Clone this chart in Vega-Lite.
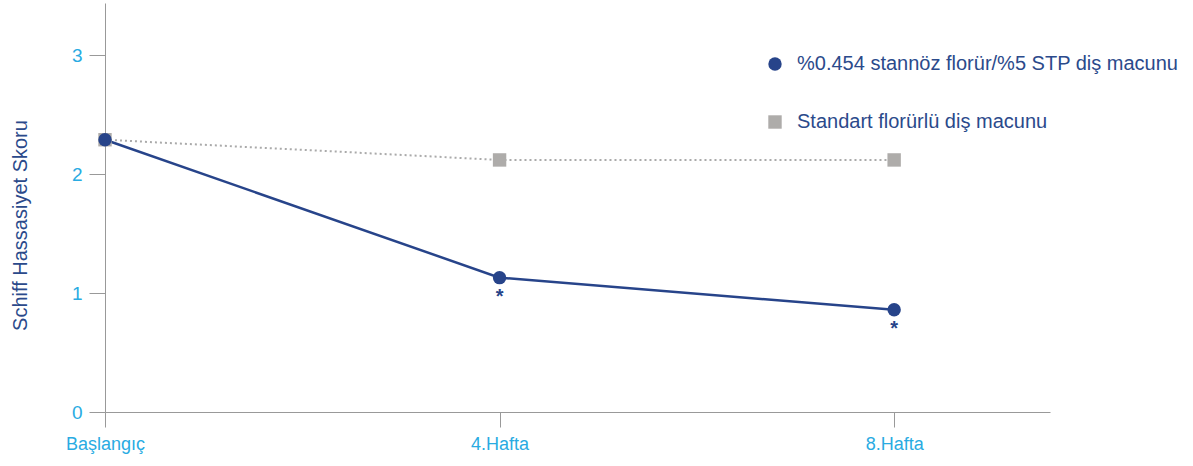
{
  "$schema": "https://vega.github.io/schema/vega-lite/v6.json",
  "autosize": "none",
  "width": 945,
  "height": 409,
  "padding": {"left": 105, "top": 3, "right": 143, "bottom": 54},
  "background": "white",
  "config": {
    "view": {"stroke": null},
    "font": "Liberation Sans"
  },
  "data": {
    "values": [
      {"hafta": 0, "series": "Standart florürlü diş macunu", "value": 2.29, "star": ""},
      {"hafta": 4, "series": "Standart florürlü diş macunu", "value": 2.12, "star": ""},
      {"hafta": 8, "series": "Standart florürlü diş macunu", "value": 2.12, "star": ""},
      {"hafta": 0, "series": "%0.454 stannöz florür/%5 STP diş macunu", "value": 2.29, "star": ""},
      {"hafta": 4, "series": "%0.454 stannöz florür/%5 STP diş macunu", "value": 1.13, "star": "*"},
      {"hafta": 8, "series": "%0.454 stannöz florür/%5 STP diş macunu", "value": 0.86, "star": "*"}
    ]
  },
  "encoding": {
    "x": {
      "field": "hafta", "type": "quantitative",
      "scale": {"domain": [0, 9.58], "nice": false, "zero": false},
      "axis": {
        "values": [0, 4, 8],
        "labelExpr": "datum.value == 0 ? 'Başlangıç' : datum.value + '.Hafta'",
        "title": null, "grid": false, "labelFlush": false,
        "domainColor": "#999999", "tickColor": "#999999", "tickSize": 15,
        "labelColor": "#29abe2", "labelFontSize": 18, "labelPadding": 8,
        "labelFont": "Liberation Sans"
      }
    },
    "y": {
      "field": "value", "type": "quantitative",
      "scale": {"domain": [0, 3.44], "nice": false},
      "axis": {
        "values": [0, 1, 2, 3],
        "title": "Schiff Hassasiyet Skoru",
        "titleColor": "#2b4a8b", "titleFontSize": 20, "titleFontWeight": "normal",
        "titleX": -79, "titleY": 222, "titleAngle": -90, "titleAlign": "center", "titleBaseline": "alphabetic",
        "grid": false, "labelFlush": false,
        "domainColor": "#999999", "tickColor": "#999999", "tickSize": 16,
        "labelColor": "#29abe2", "labelFontSize": 19, "labelPadding": 7
      }
    }
  },
  "layer": [
    {
      "transform": [{"filter": "datum.series == 'Standart florürlü diş macunu'"}],
      "mark": {"type": "line", "color": "#aaaaaa", "strokeWidth": 2, "strokeDash": [2, 3]}
    },
    {
      "transform": [{"filter": "datum.series != 'Standart florürlü diş macunu'"}],
      "mark": {"type": "line", "color": "#27448a", "strokeWidth": 2.5}
    },
    {
      "mark": {"type": "point", "filled": true, "opacity": 1},
      "encoding": {
        "shape": {
          "field": "series", "type": "nominal",
          "scale": {"domain": ["%0.454 stannöz florür/%5 STP diş macunu", "Standart florürlü diş macunu"], "range": ["circle", "square"]},
          "legend": null
        },
        "color": {
          "field": "series", "type": "nominal",
          "scale": {"domain": ["%0.454 stannöz florür/%5 STP diş macunu", "Standart florürlü diş macunu"], "range": ["#27448a", "#aeacaa"]},
          "legend": {
            "title": null, "orient": "none", "legendX": 660, "legendY": 51,
            "labelFontSize": 20, "labelColor": "#2b4a8b", "labelOffset": 12,
            "symbolSize": 180, "rowPadding": 38, "symbolOpacity": 1, "labelLimit": 600
          }
        },
        "size": {"value": 180},
        "order": {"field": "series", "sort": "descending"}
      }
    },
    {
      "mark": {"type": "text", "baseline": "top", "dy": 9, "fontSize": 20, "fontWeight": "bold", "color": "#27448a"},
      "encoding": {"text": {"field": "star"}}
    }
  ]
}
